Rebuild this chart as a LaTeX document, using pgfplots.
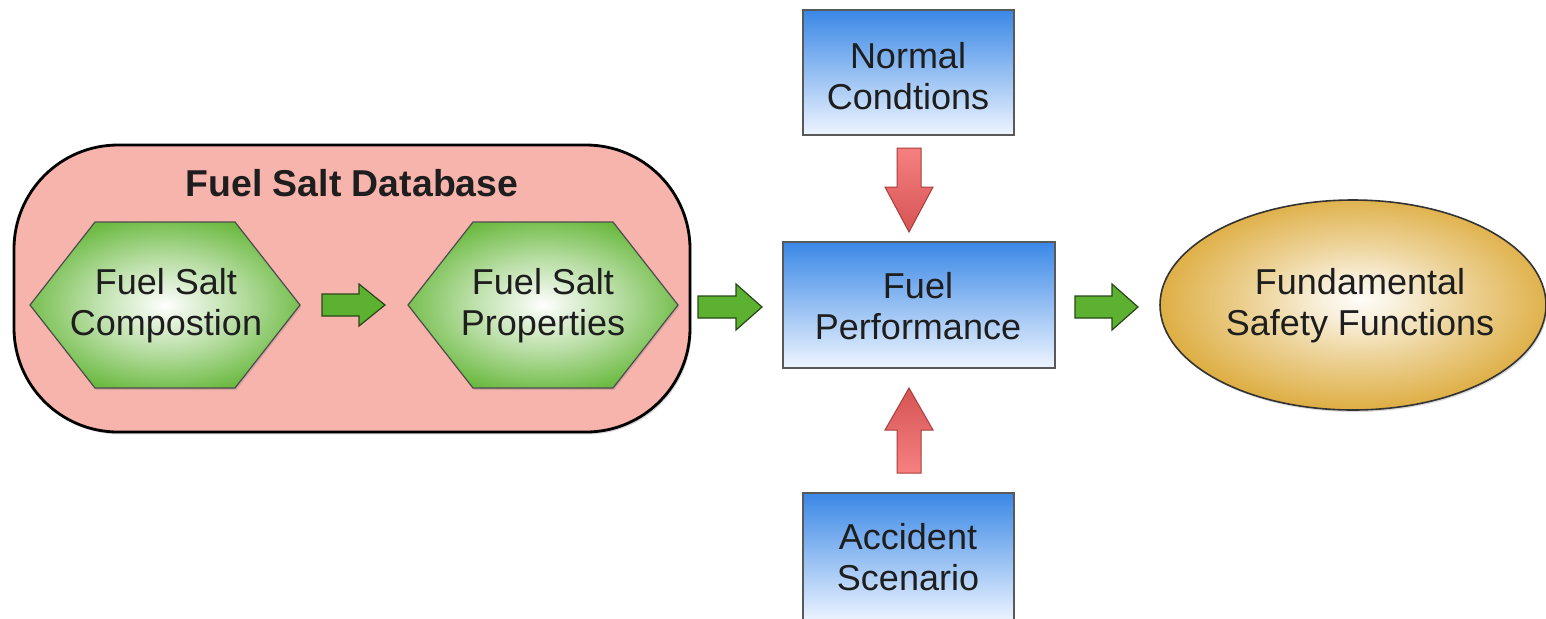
\documentclass[border=0pt]{standalone}
\usepackage{pgfplots}
\pgfplotsset{compat=1.18}
\usepackage{fontspec}
\setmainfont{Liberation Sans}
\usetikzlibrary{shadows}
\definecolor{pinkfill}{RGB}{247,180,172}
\definecolor{hexgreen}{RGB}{108,186,66}
\definecolor{arrgreen}{RGB}{92,178,48}
\definecolor{arredge}{RGB}{40,70,25}
\definecolor{boxblue}{RGB}{58,136,230}
\definecolor{boxlow}{RGB}{238,245,255}
\definecolor{redlight}{RGB}{246,128,128}
\definecolor{reddark}{RGB}{214,84,84}
\definecolor{rededge}{RGB}{170,60,60}
\definecolor{gold}{RGB}{220,170,58}
\definecolor{txt}{RGB}{30,30,30}
\pgfdeclareradialshading{hexshade}{\pgfpoint{0bp}{0bp}}{color(0bp)=(white); color(4bp)=(white!85!hexgreen); color(13bp)=(white!55!hexgreen); color(27bp)=(hexgreen); color(50bp)=(hexgreen)}
\pgfdeclareradialshading{goldshade}{\pgfpoint{1bp}{1.5bp}}{color(0bp)=(white!97!gold); color(5bp)=(white!82!gold); color(13bp)=(white!50!gold); color(27bp)=(gold); color(50bp)=(gold)}
\begin{document}
\begin{tikzpicture}
\begin{axis}[scale only axis, width=773pt, height=309pt, hide axis,
  xmin=0, xmax=1546, ymin=0, ymax=618, y dir=reverse, clip=true]
% pink container
\draw[line width=1.4pt, fill=pinkfill, rounded corners=52pt,
  drop shadow={shadow xshift=0.8pt, shadow yshift=-1.2pt, opacity=0.3}]
  (axis cs:14,145) rectangle (axis cs:690,432);
\node[font=\fontsize{18.7}{21}\selectfont\bfseries, text=txt] at (axis cs:352,183) {Fuel Salt Database};
% hexagons
\draw[line width=0.6pt, draw=black!70, shading=hexshade,
  drop shadow={shadow xshift=0.6pt, shadow yshift=-1pt, opacity=0.3}]
  (axis cs:30,305) -- (axis cs:95,222) -- (axis cs:235,222) -- (axis cs:300,305)
  -- (axis cs:235,388) -- (axis cs:95,388) -- cycle;
\draw[line width=0.6pt, draw=black!70, shading=hexshade,
  drop shadow={shadow xshift=0.6pt, shadow yshift=-1pt, opacity=0.3}]
  (axis cs:408,305) -- (axis cs:473,222) -- (axis cs:613,222) -- (axis cs:678,305)
  -- (axis cs:613,388) -- (axis cs:473,388) -- cycle;
\node[font=\fontsize{18}{20.5}\selectfont, text=txt, align=center] at (axis cs:166,306) {Fuel Salt\\Compostion};
\node[font=\fontsize{18}{20.5}\selectfont, text=txt, align=center] at (axis cs:543,306) {Fuel Salt\\Properties};
% green arrows
\draw[line width=0.6pt, draw=arredge, fill=arrgreen]
  (axis cs:322,294) -- (axis cs:359,294) -- (axis cs:359,284) -- (axis cs:385,305)
  -- (axis cs:359,326) -- (axis cs:359,316) -- (axis cs:322,316) -- cycle;
\draw[line width=0.6pt, draw=arredge, fill=arrgreen]
  (axis cs:698,296) -- (axis cs:736,296) -- (axis cs:736,284) -- (axis cs:762,307)
  -- (axis cs:736,330) -- (axis cs:736,318) -- (axis cs:698,318) -- cycle;
\draw[line width=0.6pt, draw=arredge, fill=arrgreen]
  (axis cs:1075,296) -- (axis cs:1112,296) -- (axis cs:1112,284) -- (axis cs:1138,307)
  -- (axis cs:1112,330) -- (axis cs:1112,318) -- (axis cs:1075,318) -- cycle;
% blue boxes
\draw[line width=0.9pt, draw=black!65, top color=boxblue, bottom color=boxlow]
  (axis cs:803,10) rectangle (axis cs:1014,135);
\draw[line width=0.9pt, draw=black!65, top color=boxblue, bottom color=boxlow]
  (axis cs:783,242) rectangle (axis cs:1055,368);
\draw[line width=0.9pt, draw=black!65, top color=boxblue, bottom color=boxlow]
  (axis cs:803,493) rectangle (axis cs:1014,622);
\node[font=\fontsize{18}{20.5}\selectfont, text=txt, align=center] at (axis cs:908,76) {Normal\\Condtions};
\node[font=\fontsize{18}{20.5}\selectfont, text=txt, align=center] at (axis cs:918,306) {Fuel\\Performance};
\node[font=\fontsize{18}{20.5}\selectfont, text=txt, align=center] at (axis cs:908,557) {Accident\\Scenario};
% red arrows
\draw[line width=0.5pt, draw=rededge, top color=redlight, bottom color=reddark]
  (axis cs:897,148) -- (axis cs:921,148) -- (axis cs:921,187) -- (axis cs:933,187)
  -- (axis cs:909,232) -- (axis cs:885,187) -- (axis cs:897,187) -- cycle;
\draw[line width=0.5pt, draw=rededge, top color=reddark, bottom color=redlight]
  (axis cs:909,388) -- (axis cs:933,430) -- (axis cs:921,430) -- (axis cs:921,473)
  -- (axis cs:897,473) -- (axis cs:897,430) -- (axis cs:885,430) -- cycle;
% ellipse
\draw[line width=0.8pt, draw=black!80, shading=goldshade,
  drop shadow={shadow xshift=0.6pt, shadow yshift=-1pt, opacity=0.3}]
  (axis cs:1353,305) ellipse [x radius=96.5pt, y radius=52.5pt];
\node[font=\fontsize{18}{20.5}\selectfont, text=txt, align=center] at (axis cs:1360,306) {Fundamental\\Safety Functions};
\end{axis}
\pgfresetboundingbox
\useasboundingbox (current axis.south west) rectangle (current axis.north east);
\end{tikzpicture}
\end{document}
